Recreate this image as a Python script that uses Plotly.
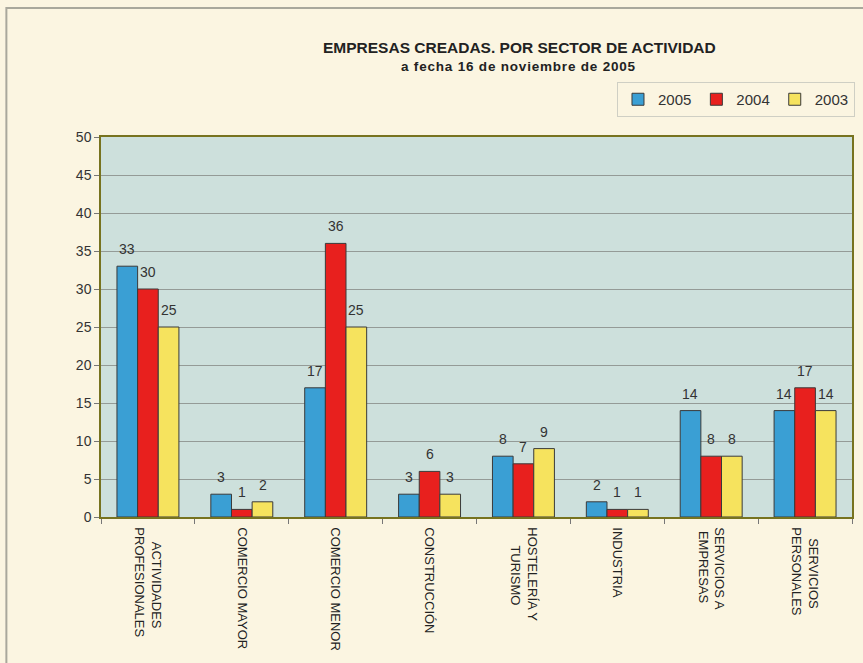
import plotly.graph_objects as go

NB = "\u00a0"
categories = [NB * 4 + "ACTIVIDADES<br>PROFESIONALES", "COMERCIO MAYOR", "COMERCIO MENOR",
              "CONSTRUCCIÓN", "HOSTELERÍA Y<br>" + NB * 5 + "TURISMO", "INDUSTRIA",
              "SERVICIOS A<br>" + NB + "EMPRESAS", NB * 3 + "SERVICIOS<br>PERSONALES"]
v2005 = [33, 3, 17, 3, 8, 2, 14, 14]
v2004 = [30, 1, 36, 6, 7, 1, 8, 17]
v2003 = [25, 2, 25, 3, 9, 1, 8, 14]
series = [("2005", v2005, "#3a9fd4"), ("2004", v2004, "#e8201e"), ("2003", v2003, "#f6e35e")]

W, H = 863, 663
L, R, T, B = 101, 8, 137, 146
pw, ph = W - L - R, H - T - B
BARGAP = 0.34

def px(x):
    return (x - L) / pw

def py(y):
    return (H - B - y) / ph

fig = go.Figure()
for name, vals, col in series:
    fig.add_trace(go.Bar(
        name=name, x=categories, y=vals,
        marker=dict(color=col, line=dict(color="#3a3a3a", width=1)),
    ))

# data labels: placed above each bar via the axes (value -> y, category -> x)
bar_w = pw / len(categories) * (1 - BARGAP) / len(series)
annotations = []
for i, (name, vals, col) in enumerate(series):
    for c, v in zip(categories, vals):
        annotations.append(dict(
            x=c, y=v, xref="x", yref="y", text=str(v), showarrow=False,
            xshift=(i - (len(series) - 1) / 2) * bar_w, yshift=7, yanchor="bottom",
            font=dict(family="Liberation Sans, Arial, sans-serif", size=14, color="#333"),
        ))

annotations += [
    dict(text="<b>EMPRESAS CREADAS. POR SECTOR DE ACTIVIDAD</b>", x=px(521), y=py(37),
         xref="paper", yref="paper", showarrow=False,
         font=dict(size=15.5, color="#222")),
    dict(text="<b><span style='letter-spacing:0.8px'>a fecha 16 de noviembre de 2005</span></b>",
         x=px(520), y=py(57),
         xref="paper", yref="paper", showarrow=False,
         font=dict(size=13.5, color="#222")),
]

fig.update_layout(
    width=W, height=H,
    margin=dict(l=L, r=R, t=T, b=B, pad=0),
    barmode="group", bargap=BARGAP, bargroupgap=0,
    paper_bgcolor="#fbf5e1", plot_bgcolor="#cde0dc",
    font=dict(family="Liberation Sans, Arial, sans-serif", color="#333"),
    showlegend=True,
    legend=dict(orientation="h", x=px(858), xanchor="right", y=py(82), yanchor="top",
                bgcolor="#fbf5e1", bordercolor="#cfcfc4", borderwidth=1,
                itemwidth=30, font=dict(size=15, color="#333"), traceorder="normal"),
    xaxis=dict(type="category", tickangle=90, tickson="boundaries", ticks="outside",
               ticklen=5, tickcolor="#777", showline=True, linecolor="#77731f", linewidth=1.5,
               mirror=True, tickfont=dict(size=13, color="#222"), showgrid=False,
               ticklabelstandoff=6),
    yaxis=dict(range=[0, 50], dtick=5, showgrid=True, gridcolor="#949b97", gridwidth=1,
               showline=True, linecolor="#77731f", linewidth=1.5, mirror=True,
               ticks="outside", ticklen=5, tickcolor="#777",
               tickfont=dict(size=14, color="#333"), zeroline=False),
    annotations=annotations,
    shapes=[
        dict(type="rect", xref="paper", yref="paper", x0=px(6), x1=px(875), y0=py(675), y1=py(8),
             line=dict(color="#a9a89c", width=2), layer="below"),
    ],
)

fig.write_html("out.html", config={"displayModeBar": False},
               post_script="document.body.style.margin='0';document.body.style.overflow='hidden';")
